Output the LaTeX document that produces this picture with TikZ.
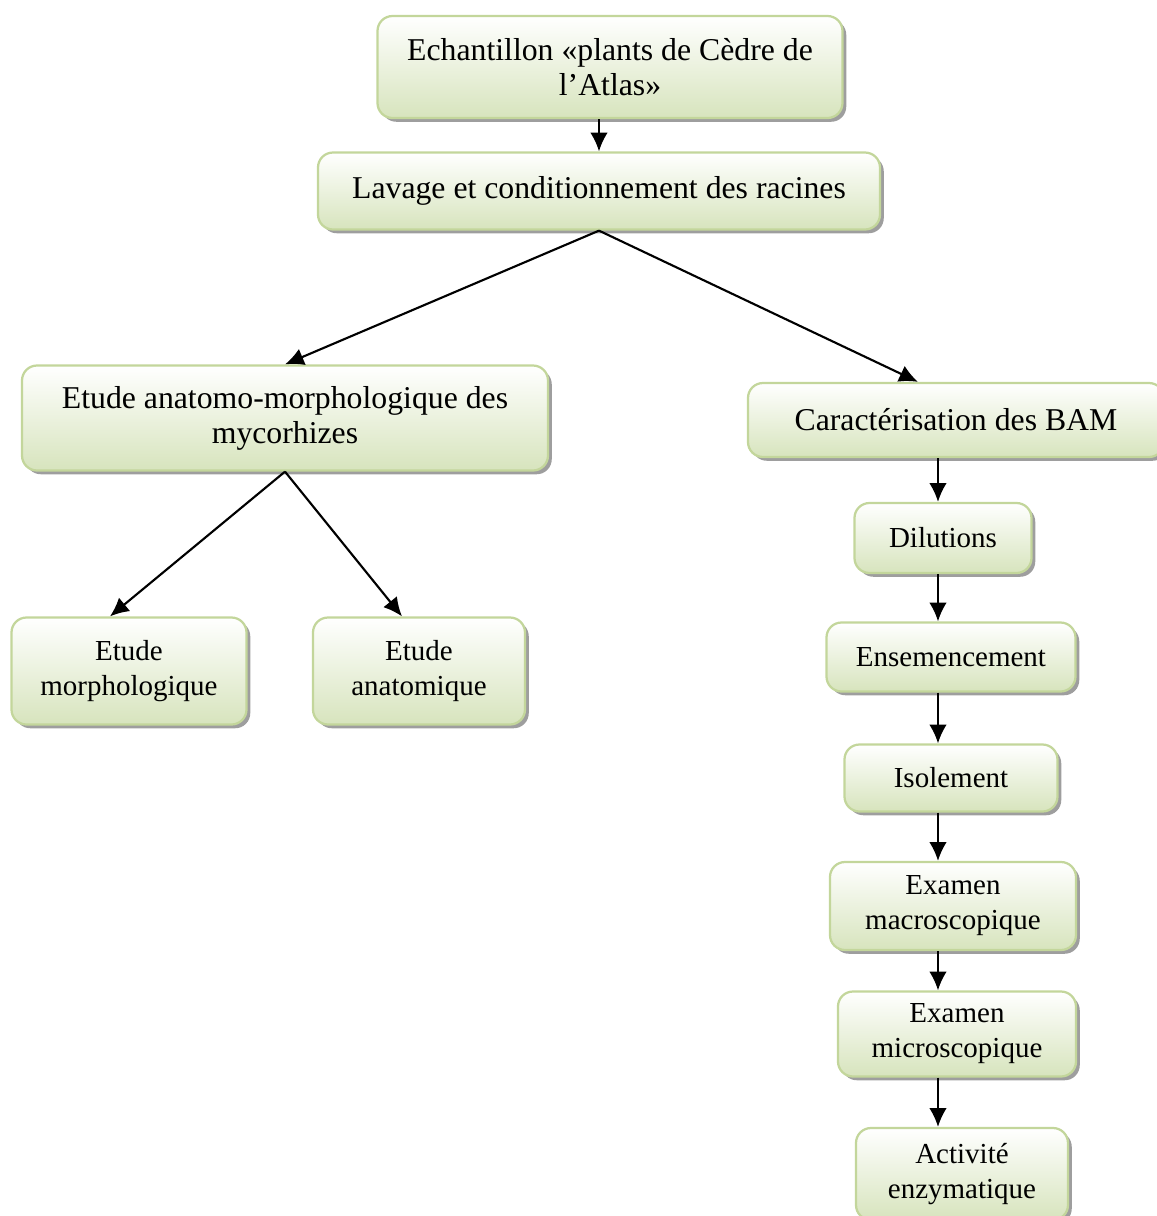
\documentclass[tikz,border=0pt]{standalone}
\usepackage{fontspec}
\setmainfont{Liberation Serif}
\usepackage{tikz}
\usetikzlibrary{positioning}
\usetikzlibrary{arrows.meta,shadows}
\definecolor{boxborder}{HTML}{C3D69B}
\definecolor{boxbottom}{HTML}{D7E4BD}
\colorlet{boxshadow}{black!38}
\tikzset{
  stepbox/.style={draw=boxborder, line width=0.9pt, rounded corners=6pt,
    top color=white, bottom color=boxbottom, align=center, inner sep=2pt,
    drop shadow={shadow xshift=1.5pt, shadow yshift=-1.5pt, fill=boxshadow, opacity=1}},
  bigtext/.style={font=\fontsize{12.7}{14}\selectfont},
  smalltext/.style={font=\fontsize{11.6}{14}\selectfont},
  flow/.style={-{Latex[length=7.5pt,width=7pt]}, line width=0.85pt}
}

\begin{document}
\begin{tikzpicture}[x=0.4pt,y=-0.4pt]
        \useasboundingbox (0,0) rectangle (1156,1216);

        % main column
        \node[stepbox,bigtext,minimum width=186pt,minimum height=40.8pt]
        (echant) at (610,67) {Echantillon «plants de Cèdre de\\l’Atlas»};
        \node[stepbox,bigtext,minimum width=224.8pt,minimum height=30.8pt]
        (lavage) at (599,191) {Lavage et conditionnement des racines};

        % left branch
        \node[stepbox,bigtext,minimum width=210.4pt,minimum height=42pt]
        (anamor) at (285,418) {Etude anatomo-morphologique des\\mycorhizes};
        \node[stepbox,smalltext,minimum width=94pt,minimum height=42.8pt]
        (morpho) at (129,671) {Etude\\morphologique};
        \node[stepbox,smalltext,minimum width=84.8pt,minimum height=42.8pt]
        (anatom) at (419,671) {Etude\\anatomique};

        % right branch
        \node[stepbox,bigtext,minimum width=166.4pt,minimum height=29.6pt]
        (caract) at (956,420) {Caractérisation des BAM};
        \node[stepbox,smalltext,minimum width=70.8pt,minimum height=28pt]
        (dilut) at (943,538) {Dilutions};
        \node[stepbox,smalltext,minimum width=99.6pt,minimum height=27.6pt]
        (ensem) at (951,657) {Ensemencement};
        \node[stepbox,smalltext,minimum width=85.2pt,minimum height=26.8pt]
        (isol) at (951,778) {Isolement};
        \node[stepbox,smalltext,minimum width=98.4pt,minimum height=35.2pt]
        (macro) at (953,906) {Examen\\macroscopique};
        \node[stepbox,smalltext,minimum width=95.2pt,minimum height=34pt]
        (micro) at (957,1034) {Examen\\microscopique};
        \node[stepbox,smalltext,minimum width=84.8pt,minimum height=36.8pt]
        (enzym) at (962,1174) {Activité\\enzymatique};

        % where the arrows meet the boxes
        \coordinate (col) at (938,0);
        \coordinate (tipcar) at (918,0);
        \coordinate (tipmor) at (110,0);
        \coordinate (tipana) at (402,0);

        \draw[flow] (echant.south -| lavage) -- (lavage.north);
        \draw[flow] (lavage.south) -- (anamor.north);
        \draw[flow] (lavage.south) -- (caract.north -| tipcar);
        \draw[flow] (anamor.south) -- (morpho.north -| tipmor);
        \draw[flow] (anamor.south) -- (anatom.north -| tipana);

        \draw[flow] (caract.south -| col) -- (dilut.north -| col);
        \draw[flow] (dilut.south -| col) -- (ensem.north -| col);
        \draw[flow] (ensem.south -| col) -- (isol.north -| col);
        \draw[flow] (isol.south -| col) -- (macro.north -| col);
        \draw[flow] (macro.south -| col) -- (micro.north -| col);
        \draw[flow] (micro.south -| col) -- (enzym.north -| col);

\end{tikzpicture}
\end{document}
